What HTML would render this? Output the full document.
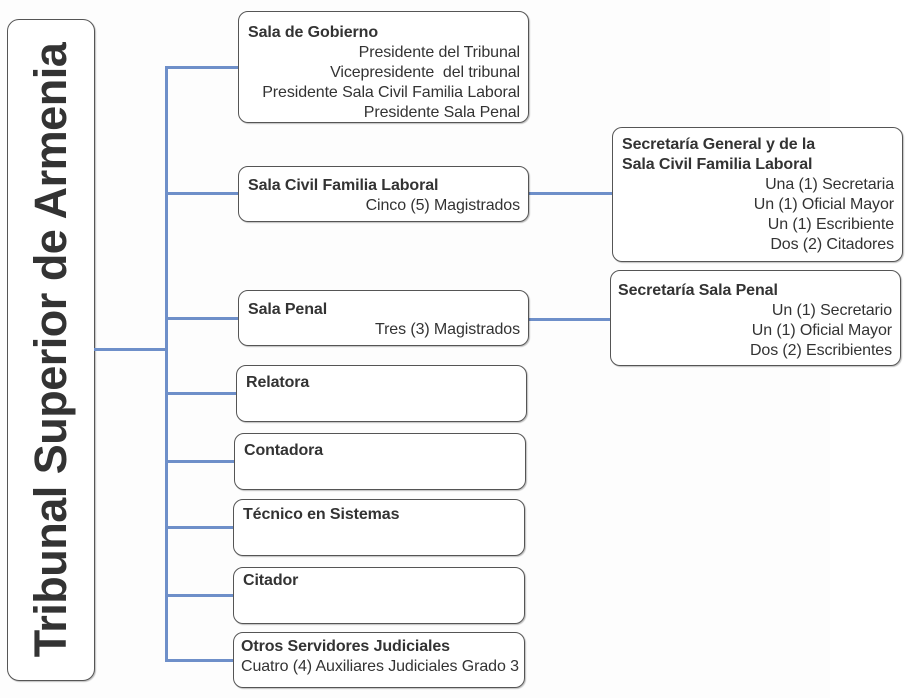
<!DOCTYPE html>
<html><head><meta charset="utf-8"><style>
body{margin:0;width:911px;height:698px;background:#fff;position:relative;overflow:hidden;font-family:"Liberation Sans",Arial,sans-serif;color:#333;}
.bg{position:absolute;left:0;top:0;width:830px;height:698px;background:#fdfdfd;}
.b{position:absolute;box-sizing:border-box;border:1px solid #555;border-radius:10px;background:rgba(255,255,255,0.92);font-size:16px;line-height:20px;letter-spacing:-0.1px;padding:3px 8px 0 9px;box-shadow:1px 1px 1px rgba(0,0,0,0.25);white-space:nowrap;}
.t{font-weight:bold;text-align:left;}
.r{text-align:right;}
.h{position:absolute;height:3px;background:#6e8fc9;}
.v{position:absolute;width:3px;background:#6e8fc9;}
.main{position:absolute;left:7px;top:19px;width:88px;height:662px;box-sizing:border-box;border:1px solid #555;border-radius:12px;background:#fff;box-shadow:1px 1px 1px rgba(0,0,0,0.25);}
.main span{position:absolute;left:50%;top:50%;transform:translate(-50%,-50%) rotate(-90deg);white-space:nowrap;font-weight:bold;font-size:45px;color:#333;letter-spacing:-0.5px;}
</style></head><body>
<div class="bg"></div>
<div class="main"><span>Tribunal Superior de Armenia</span></div>
<div class="h" style="left:94px;top:348px;width:72px"></div>
<div class="v" style="left:165px;top:66px;height:596px"></div>
<div class="h" style="left:165px;top:66px;width:74px"></div>
<div class="h" style="left:165px;top:192px;width:74px"></div>
<div class="h" style="left:165px;top:317px;width:74px"></div>
<div class="h" style="left:165px;top:392px;width:72px"></div>
<div class="h" style="left:165px;top:460px;width:70px"></div>
<div class="h" style="left:165px;top:526px;width:69px"></div>
<div class="h" style="left:165px;top:594px;width:69px"></div>
<div class="h" style="left:165px;top:659px;width:69px"></div>
<div class="h" style="left:528px;top:192px;width:85px"></div>
<div class="h" style="left:528px;top:318px;width:83px"></div>

<div class="b" style="left:238px;top:11px;width:291px;height:112px;padding-top:11px">
<div class="t">Sala de Gobierno</div>
<div class="r">Presidente del Tribunal</div>
<div class="r">Vicepresidente&nbsp; del tribunal</div>
<div class="r">Presidente Sala Civil Familia Laboral</div>
<div class="r">Presidente Sala Penal</div></div>

<div class="b" style="left:238px;top:166px;width:291px;height:56px;padding-top:9px">
<div class="t">Sala Civil Familia Laboral</div>
<div class="r">Cinco (5) Magistrados</div></div>

<div class="b" style="left:238px;top:290px;width:291px;height:56px;padding-top:9px">
<div class="t">Sala Penal</div>
<div class="r">Tres (3) Magistrados</div></div>

<div class="b" style="left:236px;top:365px;width:291px;height:57px;padding-top:7px;padding-left:9px">
<div class="t">Relatora</div></div>
<div class="b" style="left:234px;top:433px;width:292px;height:57px;padding-top:7px">
<div class="t">Contadora</div></div>
<div class="b" style="left:233px;top:499px;width:292px;height:57px;padding-top:5px">
<div class="t">Técnico en Sistemas</div></div>
<div class="b" style="left:233px;top:567px;width:292px;height:57px;padding-top:3px">
<div class="t">Citador</div></div>
<div class="b" style="left:233px;top:632px;width:292px;height:56px;padding-top:4px;padding-left:7px">
<div class="t">Otros Servidores Judiciales</div>
<div>Cuatro (4) Auxiliares Judiciales Grado 3</div></div>

<div class="b" style="left:612px;top:127px;width:291px;height:135px;padding-top:7px">
<div class="t">Secretaría General y de la<br>Sala Civil Familia Laboral</div>
<div class="r">Una (1) Secretaria</div>
<div class="r">Un (1) Oficial Mayor</div>
<div class="r">Un (1) Escribiente</div>
<div class="r">Dos (2) Citadores</div></div>

<div class="b" style="left:610px;top:270px;width:291px;height:96px;padding-top:10px;padding-left:7px">
<div class="t">Secretaría Sala Penal</div>
<div class="r">Un (1) Secretario</div>
<div class="r">Un (1) Oficial Mayor</div>
<div class="r">Dos (2) Escribientes</div></div>
</body></html>
